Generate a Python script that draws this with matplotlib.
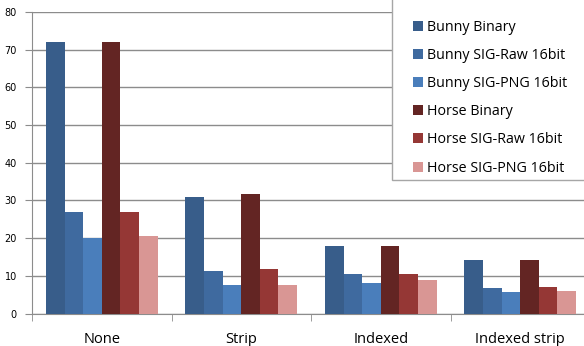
import matplotlib.pyplot as plt
import matplotlib.patches as mpatches
import numpy as np

categories = ['None', 'Strip', 'Indexed', 'Indexed strip']
series = ['Bunny Binary', 'Bunny SIG-Raw 16bit', 'Bunny SIG-PNG 16bit',
          'Horse Binary', 'Horse SIG-Raw 16bit', 'Horse SIG-PNG 16bit']
bunny_binary = [72, 30.8, 18.0, 14.3]
bunny_raw = [27, 11.4, 10.4, 6.8]
bunny_png = [20, 7.5, 8.2, 5.6]
horse_binary = [72, 31.7, 18.0, 14.3]
horse_raw = [27, 11.8, 10.4, 7.1]
horse_png = [20.6, 7.5, 9.0, 6.1]
colors = ['#385D8A', '#3F6A9F', '#4A7EBB', '#632523', '#953735', '#D99694']

values = [bunny_binary, bunny_raw, bunny_png, horse_binary, horse_raw, horse_png]

W, H = 584, 346
fig = plt.figure(figsize=(W / 100, H / 100), dpi=100)
ax = fig.add_axes([32 / W, (H - 313.5) / H, 558 / W, 301.5 / H])

x = np.arange(len(categories))
bw = 0.8 / 6
for i, (name, vals) in enumerate(zip(series, values)):
    ax.bar(x - 0.4 + bw * (i + 0.5), vals, bw, color=colors[i], label=name, zorder=3)

ax.set_xlim(-0.5, 3.5)
ax.set_ylim(0, 80)
ax.set_yticks(range(0, 81, 10))
ax.yaxis.grid(True, color='#8C8C8C', linewidth=1, zorder=0)
for s in ['top', 'right']:
    ax.spines[s].set_visible(False)
for s in ['left', 'bottom']:
    ax.spines[s].set_color('#8C8C8C')
ax.set_xticks(x)
ax.set_xticklabels(categories, fontsize=10.5, family='Open Sans')
ax.set_xticks(np.arange(-0.5, 4, 1), minor=True)
ax.tick_params(axis='x', which='major', length=0, pad=13)
ax.tick_params(axis='x', which='minor', length=5, color='#8C8C8C', direction='out')
ax.tick_params(axis='y', length=5, color='#8C8C8C', labelsize=7, pad=6)

leg = fig.legend(loc='upper left', bbox_to_anchor=(397 / W, 1 - 4 / H),
                 frameon=False, prop={'family': 'Open Sans', 'size': 10.3},
                 handlelength=0.7, handleheight=0.7, handletextpad=0.3,
                 labelspacing=0.92, borderpad=0.6)
fig.add_artist(mpatches.Rectangle((392 / W, (H - 180) / H), 200 / W, 190 / H,
                                  transform=fig.transFigure, facecolor='white',
                                  edgecolor='#A6A6A6', linewidth=1, zorder=4))
leg.set_zorder(5)

fig.savefig('out.png', dpi=100)
